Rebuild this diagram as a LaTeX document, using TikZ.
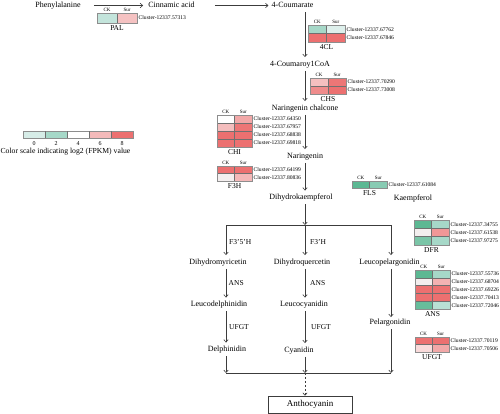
\documentclass[tikz,border=0pt]{standalone}
\usepackage{fontspec}
\setmainfont{Liberation Serif}
\usetikzlibrary{arrows.meta}
\definecolor{lnc}{HTML}{3C3C3C}
\definecolor{tlL}{HTML}{D6ECE7}
\definecolor{tl}{HTML}{A6D8C8}
\definecolor{gr}{HTML}{5CB893}
\definecolor{gr2}{HTML}{7AC5A7}
\definecolor{pkL}{HTML}{F5C2C2}
\definecolor{pk}{HTML}{F2A8A8}
\definecolor{rd}{HTML}{EC7070}
\definecolor{ow}{HTML}{F3EEEE}
\definecolor{cellc}{HTML}{707070}
\newcounter{hmc}
\newcommand{\hmrow}[7]{%
  \fill[#5] (#1,#2) rectangle ++(#3,#4);
  \fill[#6] ({#1+#3},#2) rectangle ++(#3,#4);
  \draw[cellline] (#1,#2) rectangle ++({2*#3},#4);
  \draw[cellline] ({#1+#3},#2) -- ++(0,#4);
  \stepcounter{hmc}\node[clus] (cl\thehmc) at ({#1+2*#3+1.5},{#2+#4/2}) {#7};}
\newcommand{\hmhead}[4]{%
  \node[hdr] (#4ck) at ({#1+#3/2},{#2-3.5}) {CK};
  \node[hdr] (#4sur) at ({#1+1.5*#3},{#2-3.5}) {Sur};}
\newcommand{\hmframe}[5]{%
  \draw[framel] (#1,#2) rectangle ({#1+2*#3},{#2+#4});
  \node[gene] (g#5) at ({#1+#3},{#2+#4+5}) {#5};}
\begin{document}
\begin{tikzpicture}[x=1pt,y=-1pt,
  clus/.style={font=\fontsize{5.6}{6}\selectfont, anchor=west, inner sep=0pt},
  hdr/.style={font=\fontsize{5}{6}\selectfont, inner sep=0pt},
  gene/.style={font=\fontsize{7.5}{8}\selectfont, inner sep=0pt},
  lbl/.style={font=\fontsize{8}{9}\selectfont, inner sep=3pt, text height=6pt, text depth=1.5pt},
  enz/.style={font=\fontsize{7.5}{8}\selectfont, inner sep=0pt, anchor=west},
  cellline/.style={draw=cellc, line width=0.4pt},
  framel/.style={draw=cellc!80, line width=0.6pt},
  arr/.style={draw=lnc, line width=0.6pt, -{Straight Barb[length=2.5pt,width=4.5pt]}},
  ln/.style={draw=lnc, line width=0.6pt}]
\useasboundingbox (0,0) rectangle (500,414);

% main pathway labels
\node[lbl] (phe) at (58,5.5) {Phenylalanine};
\node[lbl] (cin) at (171.5,5.5) {Cinnamic acid};
\node[lbl] (cou) at (292.5,5.5) {4-Coumarate};
\node[lbl] (coa) at (300,64) {4-Coumaroy1CoA};
\node[lbl] (nch) at (305,108) {Naringenin chalcone};
\node[lbl] (nar) at (305,156) {Naringenin};
\node[lbl] (dhk) at (301,197.5) {Dihydrokaempferol};
\node[lbl] (kae) at (413,198) {Kaempferol};
\node[lbl] (dmy) at (218,262) {Dihydromyricetin};
\node[lbl] (dqu) at (302,262) {Dihydroquercetin};
\node[lbl] (lpe) at (389.5,262) {Leucopelargonidin};
\node[lbl] (lde) at (219,304.5) {Leucodelphinidin};
\node[lbl] (lcy) at (304,304.5) {Leucocyanidin};
\node[lbl] (pel) at (390,322) {Pelargonidin};
\node[lbl] (del) at (227,349.5) {Delphinidin};
\node[lbl] (cya) at (299,350) {Cyanidin};
\node[draw=lnc, line width=0.6pt, minimum width=84pt, minimum height=17pt, inner sep=0pt,
      font=\fontsize{9}{10}\selectfont] (ant) at (310,404.5) {Anthocyanin};

% coordinates
\coordinate (colA) at (305,0);
\coordinate (bL) at (226,225);
\coordinate (bM) at (305,225);
\coordinate (bR) at (391,225);
\coordinate (eL) at (226,373);
\coordinate (eM) at (305,373);
\coordinate (eR) at (391,373);

% connectors
\draw[arr] ([xshift=10pt]phe.east) -- ([xshift=-2pt]cin.west);
\draw[arr] ([xshift=17pt]cin.east) -- (cou.west);
\draw[arr] (cou.south -| colA) -- (coa.north -| colA);
\draw[arr] (coa.south -| colA) -- (nch.north -| colA);
\draw[arr] (nch.south -| colA) -- (nar.north -| colA);
\draw[arr] (nar.south -| colA) -- (dhk.north -| colA);
\draw[arr] (dhk.south -| colA) -- (bM);
\draw[ln] (bL) -- (bR);
\draw[arr] (bL) -- (dmy.north -| bL);
\draw[arr] (bM) -- (dqu.north -| bM);
\draw[arr] (bR) -- (lpe.north -| bR);
\draw[arr] (dmy.south -| bL) -- (lde.north -| bL);
\draw[arr] (lde.south -| bL) -- (del.north -| bL);
\draw[arr] (dqu.south -| bM) -- (lcy.north -| bM);
\draw[arr] (lcy.south -| bM) -- (cya.north -| bM);
\draw[arr] (lpe.south -| bR) -- ([yshift=-2pt]pel.north -| bR);
\draw[ln] (eL) -- (eR);
\draw[arr] (del.south -| eL) -- (eL);
\draw[arr] (cya.south -| eM) -- (eM);
\draw[arr] (pel.south -| eR) -- (eR);
\draw[arr, dashed, dash pattern=on 2.5pt off 1.5pt] (cya.south -| eM) -- (ant.north -| eM);

% branch enzyme labels
\node[enz] (e1) at (229,242) {F3'5'H};
\node[enz] (e2) at (310,242) {F3'H};
\node[enz] (e3) at (228.5,283) {ANS};
\node[enz] (e4) at (310,283) {ANS};
\node[enz] (e5) at (229,327) {UFGT};
\node[enz] (e6) at (311,327) {UFGT};

% PAL
\hmhead{97}{13}{20}{pal}
\hmrow{97}{13}{20}{10}{tlL!60!tl}{pkL}{Cluster-12337.57313}
\hmframe{97}{13}{20}{10}{PAL}
% 4CL
\hmhead{308}{25}{18.5}{fcl}
\hmrow{308}{25}{18.5}{8.5}{tl}{tlL!80!white}{Cluster-12337.67762}
\hmrow{308}{33.5}{18.5}{8.5}{rd}{rd}{Cluster-12337.67846}
\hmframe{308}{25}{18.5}{17}{4CL}
% CHS
\hmhead{310}{78}{18}{chs}
\hmrow{310}{78}{18}{8}{pkL!90!pk}{rd!90!pk}{Cluster-12337.70290}
\hmrow{310}{86}{18}{8}{pk!50!rd}{rd}{Cluster-12337.73008}
\hmframe{310}{78}{18}{16}{CHS}
% CHI
\hmhead{217}{115}{17.5}{chi}
\hmrow{217}{115}{17.5}{8}{white}{pk}{Cluster-12337.64350}
\hmrow{217}{123}{17.5}{8}{pkL!80!pk}{rd!90!pk}{Cluster-12337.67957}
\hmrow{217}{131}{17.5}{8}{rd}{rd}{Cluster-12337.68838}
\hmrow{217}{139}{17.5}{8}{rd}{rd}{Cluster-12337.69818}
\hmframe{217}{115}{17.5}{32}{CHI}
% F3H
\hmhead{217}{166}{17.5}{fth}
\hmrow{217}{166}{17.5}{7.5}{rd}{rd}{Cluster-12337.64199}
\hmrow{217}{173.5}{17.5}{7.5}{ow}{pkL!60!pk}{Cluster-12337.80836}
\hmframe{217}{166}{17.5}{15}{F3H}
% FLS
\hmhead{352}{181}{17.5}{fls}
\hmrow{352}{181}{17.5}{7.5}{gr}{tl!60!gr}{Cluster-12337.61084}
\hmframe{352}{181}{17.5}{7.5}{FLS}
% DFR
\hmhead{414}{220}{17.5}{dfr}
\hmrow{414}{220}{17.5}{8.3}{gr}{tl}{Cluster-12337.34755}
\hmrow{414}{228.3}{17.5}{8.3}{ow}{pk!70!rd}{Cluster-12337.61538}
\hmrow{414}{236.6}{17.5}{8.3}{gr2}{tl}{Cluster-12337.97275}
\hmframe{414}{220}{17.5}{24.9}{DFR}
% ANS
\hmhead{415}{270}{17.5}{ans}
\hmrow{415}{270}{17.5}{7.8}{gr}{tl}{Cluster-12337.55736}
\hmrow{415}{277.8}{17.5}{7.8}{ow}{pkL!40!pk}{Cluster-12337.68704}
\hmrow{415}{285.6}{17.5}{7.8}{rd}{rd}{Cluster-12337.69226}
\hmrow{415}{293.4}{17.5}{7.8}{rd}{rd}{Cluster-12337.70413}
\hmrow{415}{301.2}{17.5}{7.8}{gr!85!tl}{tl!60!tlL}{Cluster-12337.72046}
\hmframe{415}{270}{17.5}{39}{ANS}
% UFGT
\hmhead{415}{337}{17}{ufg}
\hmrow{415}{337}{17}{7.5}{rd}{rd}{Cluster-12337.70119}
\hmrow{415}{344.5}{17}{7.5}{pkL!60!white}{pk}{Cluster-12337.70506}
\hmframe{415}{337}{17}{15}{UFGT}

% legend
\fill[tlL] (23,131.5) rectangle ++(22,7);
\fill[tl] (45,131.5) rectangle ++(22,7);
\fill[white] (67,131.5) rectangle ++(22,7);
\fill[pkL!70!pk] (89,131.5) rectangle ++(22,7);
\fill[rd] (111,131.5) rectangle ++(22,7);
\draw[framel] (23,131.5) rectangle (133,138.5);
\foreach \i in {1,2,3,4} {\draw[cellline] ({23+22*\i},131.5) -- ++(0,7);}
\node[hdr, font=\fontsize{6}{7}\selectfont] (v0) at (34,144) {0};
\node[hdr, font=\fontsize{6}{7}\selectfont] (v2) at (56,144) {2};
\node[hdr, font=\fontsize{6}{7}\selectfont] (v4) at (78,144) {4};
\node[hdr, font=\fontsize{6}{7}\selectfont] (v6) at (100,144) {6};
\node[hdr, font=\fontsize{6}{7}\selectfont] (v8) at (122,144) {8};
\node[inner sep=0pt, font=\fontsize{7.7}{8}\selectfont] (cap) at (65.5,152) {Color scale indicating log2 (FPKM) value};
\end{tikzpicture}
\end{document}
